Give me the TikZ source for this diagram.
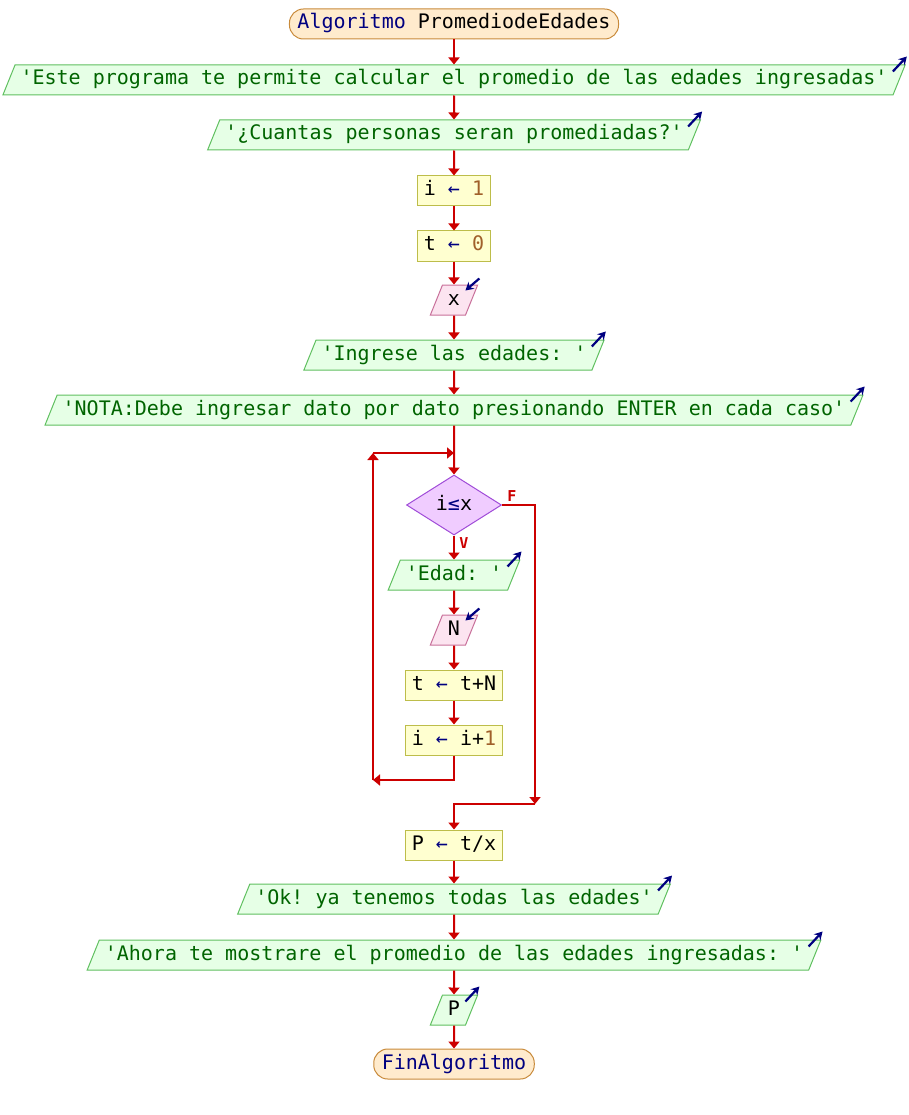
\documentclass[tikz,border=0pt]{standalone}
\usepackage{fontspec}
\setmonofont{DejaVu Sans Mono}
\usetikzlibrary{arrows.meta,shapes.geometric,calc}
\definecolor{linea}{HTML}{CC0000}
\definecolor{kw}{HTML}{000080}
\definecolor{cad}{HTML}{006400}
\definecolor{num}{HTML}{A0602A}
\definecolor{fondoterm}{HTML}{FFEBCD}
\definecolor{bordeterm}{HTML}{C88A3A}
\definecolor{fondosal}{HTML}{E6FFE6}
\definecolor{bordesal}{HTML}{60C060}
\definecolor{fondoasig}{HTML}{FFFFD0}
\definecolor{bordeasig}{HTML}{BDBD4A}
\definecolor{fondoent}{HTML}{FCE4F0}
\definecolor{bordeent}{HTML}{C8709A}
\definecolor{fondodec}{HTML}{F0CCFF}
\definecolor{bordedec}{HTML}{A04CD8}
\tikzset{
	caja/.style = {
			font            = \ttfamily\fontsize{20}{24}\selectfont\frenchspacing,
			text height     = 15pt,
			text depth      = 5pt,
			inner ysep      = 5pt,
			line width      = 1pt,
		},
	terminal/.style = {caja, rectangle, rounded corners=14pt, draw=bordeterm, fill=fondoterm, inner xsep=8pt},
	salida/.style = {caja, trapezium, trapezium left angle=68, trapezium right angle=112,
			draw=bordesal, fill=fondosal, inner xsep=5.5pt},
	entrada/.style = {salida, draw=bordeent, fill=fondoent},
	asignacion/.style = {caja, rectangle, draw=bordeasig, fill=fondoasig, inner xsep=6.5pt},
	decision/.style = {caja, diamond, draw=bordedec, fill=fondodec,
			minimum width=95pt, minimum height=60pt, inner sep=0pt},
	flecha/.style = {draw=linea, line width=2pt, -{Triangle[length=7pt,width=11pt]}},
	icono/.style = {draw=kw, line width=2.2pt, -{Stealth[length=8pt,width=9pt]}},
	etiqueta/.style = {text=linea, font=\ttfamily\bfseries\fontsize{15}{16}\selectfont, inner sep=0pt},
}

\begin{document}
\begin{tikzpicture}[x=1pt,y=-1pt]
		\useasboundingbox (0,0) rectangle (908,1115);

		\node[terminal] (inicio) at (454,24) {\textcolor{kw}{Algoritmo} PromediodeEdades};
		\node[salida] (mensaje) at (454,80) {\textcolor{cad}{'Este programa te permite calcular el promedio de las edades ingresadas'}};
		\node[salida] (pregunta) at (454,135) {\textcolor{cad}{'¿Cuantas personas seran promediadas?'}};
		\node[asignacion] (ini-i) at (454,191) {i \textcolor{kw}{←} \textcolor{num}{1}};
		\node[asignacion] (ini-t) at (454,246) {t \textcolor{kw}{←} \textcolor{num}{0}};
		\node[entrada] (leer-x) at (454,300) {x};
		\node[salida] (ingrese) at (454,355) {\textcolor{cad}{'Ingrese las edades: '}};
		\node[salida] (nota) at (454,410) {\textcolor{cad}{'NOTA:Debe ingresar dato por dato presionando ENTER en cada caso'}};
		\node[decision] (cond) at (454,505) {i\textcolor{kw}{≤}x};
		\node[salida] (edad) at (454,575) {\textcolor{cad}{'Edad: '}};
		\node[entrada] (leer-N) at (454,630) {N};
		\node[asignacion] (suma) at (454,685) {t \textcolor{kw}{←} t+N};
		\node[asignacion] (inc) at (454,740) {i \textcolor{kw}{←} i+\textcolor{num}{1}};
		\node[asignacion] (prom) at (454,845) {P \textcolor{kw}{←} t/x};
		\node[salida] (ok) at (454,899) {\textcolor{cad}{'Ok! ya tenemos todas las edades'}};
		\node[salida] (ahora) at (454,955) {\textcolor{cad}{'Ahora te mostrare el promedio de las edades ingresadas: '}};
		\node[salida] (mostrar-P) at (454,1010) {P};
		\node[terminal] (fin) at (454,1064) {\textcolor{kw}{FinAlgoritmo}};

		% etiquetas de la condicion
		\node[etiqueta] (etq-F) at (512,496) {F};
		\node[etiqueta] (etq-V) at (464,543) {V};

		% flujo principal
		\foreach \a/\b in {inicio/mensaje, mensaje/pregunta, pregunta/ini-i, ini-i/ini-t,
				ini-t/leer-x, leer-x/ingrese, ingrese/nota, nota/cond, cond/edad,
				edad/leer-N, leer-N/suma, suma/inc, prom/ok, ok/ahora,
				ahora/mostrar-P, mostrar-P/fin}
		\draw[flecha] (\a) -- (\b);

		% ciclo mientras
		\coordinate (esq-abajo) at (373,780);
		\coordinate (esq-arriba) at (373,453);
		\coordinate (union) at (454,453);
		\draw[flecha] (inc) |- (esq-abajo);
		\draw[flecha] (esq-abajo) -- (esq-arriba);
		\draw[flecha] (esq-arriba) -- (union);

		% salida por falso
		\coordinate (salida-F) at (535,804);
		\draw[flecha] (cond) -| (salida-F);
		\draw[flecha] (salida-F) -| (prom);

		% iconos de escritura y lectura
		\foreach \n in {mensaje, pregunta, ingrese, nota, edad, ok, ahora, mostrar-P}
		\draw[icono] ($(\n.top right corner)+(-13,7)$) -- ++(14,-15);
		\foreach \n in {leer-x, leer-N}
		\draw[icono] ($(\n.top right corner)+(1,-6)$) -- ++(-14,12);
	\end{tikzpicture}
\end{document}
